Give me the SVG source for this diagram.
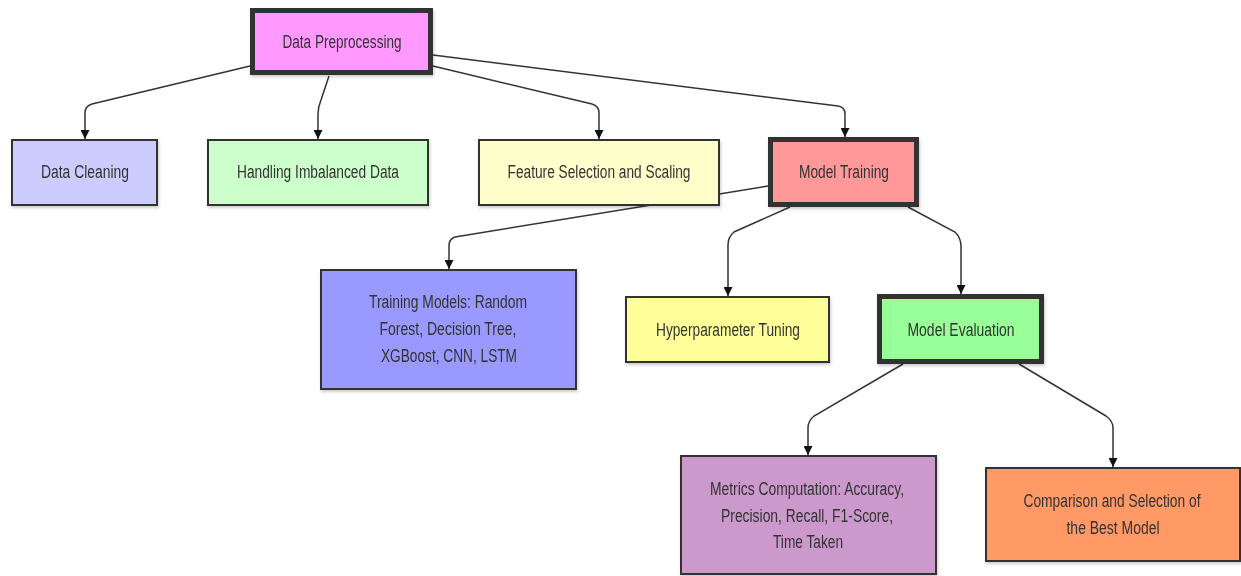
<svg xmlns="http://www.w3.org/2000/svg" width="1241" height="576" viewBox="0 0 1241 576">
<style>
.n{stroke:#333;stroke-width:2}
.k{stroke:#333;stroke-width:5}
.t{font-family:"Liberation Sans",Arial,sans-serif;font-size:18px;fill:#333;text-anchor:middle}
.e{fill:none;stroke:#333;stroke-width:1.5}
</style>
<defs>
<marker id="ah" viewBox="0 0 10 10" refX="10" refY="5" markerWidth="10" markerHeight="9" markerUnits="userSpaceOnUse" orient="auto"><path d="M0,0 L10,5 L0,10 z" fill="#111"/></marker>
<filter id="sh" x="-5%" y="-5%" width="115%" height="120%"><feDropShadow dx="1" dy="2" stdDeviation="1.5" flood-color="#000" flood-opacity="0.2"/></filter>
</defs>
<rect width="1241" height="576" fill="#fff"/>
<g id="connectors">
<path class="e" marker-end="url(#ah)" d="M250,66 L92,104 Q85,106 85,113 L85,139"/>
<path class="e" marker-end="url(#ah)" d="M329,76 L321,100 Q318,107 318,114 L318,139"/>
<path class="e" marker-end="url(#ah)" d="M433,66 L592,104 Q599,106 599,113 L599,139"/>
<path class="e" marker-end="url(#ah)" d="M433,55 L838,106 Q845,107 845,114 L845,137"/>
<path class="e" marker-end="url(#ah)" d="M768,186 L455,237 Q449,239 449,246 L449,269"/>
<path class="e" marker-end="url(#ah)" d="M790,207 L734,232 Q728,237 728,245 L728,296"/>
<path class="e" marker-end="url(#ah)" d="M908,207 L955,232 Q961,238 961,246 L961,294"/>
<path class="e" marker-end="url(#ah)" d="M903,364 L814,416 Q808,421 808,428 L808,455"/>
<path class="e" marker-end="url(#ah)" d="M1019,364 L1106,416 Q1113,421 1113,428 L1113,467"/>
</g>
<g id="data-preprocessing" filter="url(#sh)"><rect class="k" x="252.5" y="10.5" width="178" height="62" fill="#ff99ff"/><text class="t" x="342" y="48" textLength="119" lengthAdjust="spacingAndGlyphs">Data Preprocessing</text></g>
<g id="data-cleaning" filter="url(#sh)"><rect class="n" x="12" y="140" width="145" height="65" fill="#ccccff"/><text class="t" x="85" y="178" textLength="88" lengthAdjust="spacingAndGlyphs">Data Cleaning</text></g>
<g id="handling-imbalanced" filter="url(#sh)"><rect class="n" x="208" y="140" width="220" height="65" fill="#ccffcc"/><text class="t" x="318" y="178" textLength="162" lengthAdjust="spacingAndGlyphs">Handling Imbalanced Data</text></g>
<g id="feature-selection" filter="url(#sh)"><rect class="n" x="479" y="140" width="240" height="65" fill="#ffffcc"/><text class="t" x="599" y="178" textLength="183" lengthAdjust="spacingAndGlyphs">Feature Selection and Scaling</text></g>
<g id="model-training" filter="url(#sh)"><rect class="k" x="770.5" y="139.5" width="146" height="65" fill="#ff9999"/><text class="t" x="844" y="178" textLength="90" lengthAdjust="spacingAndGlyphs">Model Training</text></g>
<g id="training-models" filter="url(#sh)"><rect class="n" x="321" y="270" width="255" height="119" fill="#9999ff"/><text class="t" x="448" y="308" textLength="158" lengthAdjust="spacingAndGlyphs">Training Models: Random</text><text class="t" x="448" y="335" textLength="137" lengthAdjust="spacingAndGlyphs">Forest, Decision Tree,</text><text class="t" x="449" y="362" textLength="136" lengthAdjust="spacingAndGlyphs">XGBoost, CNN, LSTM</text></g>
<g id="hyperparameter-tuning" filter="url(#sh)"><rect class="n" x="626" y="297" width="203" height="65" fill="#ffff99"/><text class="t" x="728" y="336" textLength="144" lengthAdjust="spacingAndGlyphs">Hyperparameter Tuning</text></g>
<g id="model-evaluation" filter="url(#sh)"><rect class="k" x="879.5" y="296.5" width="162" height="65" fill="#99ff99"/><text class="t" x="961" y="336" textLength="107" lengthAdjust="spacingAndGlyphs">Model Evaluation</text></g>
<g id="metrics-computation" filter="url(#sh)"><rect class="n" x="681" y="456" width="255" height="118" fill="#cc99cc"/><text class="t" x="807" y="495" textLength="194" lengthAdjust="spacingAndGlyphs">Metrics Computation: Accuracy,</text><text class="t" x="807" y="522" textLength="172" lengthAdjust="spacingAndGlyphs">Precision, Recall, F1-Score,</text><text class="t" x="808" y="548" textLength="70" lengthAdjust="spacingAndGlyphs">Time Taken</text></g>
<g id="comparison-selection" filter="url(#sh)"><rect class="n" x="986" y="468" width="254" height="93" fill="#ff9966"/><text class="t" x="1112" y="507" textLength="177" lengthAdjust="spacingAndGlyphs">Comparison and Selection of</text><text class="t" x="1113" y="534" textLength="93" lengthAdjust="spacingAndGlyphs">the Best Model</text></g>
</svg>
